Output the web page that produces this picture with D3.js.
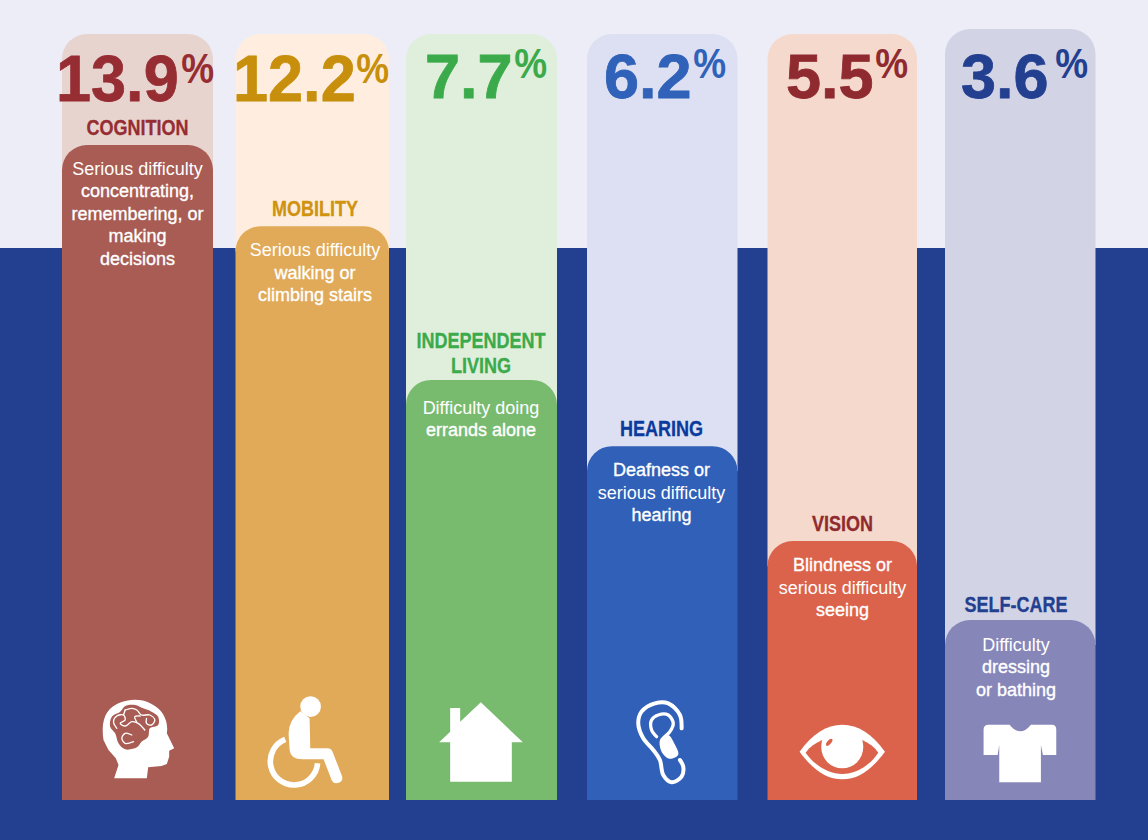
<!DOCTYPE html>
<html>
<head>
<meta charset="utf-8">
<script src="https://d3js.org/d3.v7.min.js"></script>
<style>
  html, body { margin: 0; padding: 0; background: #ecedf7; }
  svg { display: block; }
  text { font-family: "Liberation Sans", Arial, sans-serif; }
</style>
</head>
<body>
<div id="chart"></div>
<script>
// data
var categories = ["COGNITION", "MOBILITY", "INDEPENDENT LIVING", "HEARING", "VISION", "SELF-CARE"];
var labelLines = [["COGNITION"], ["MOBILITY"], ["INDEPENDENT", "LIVING"], ["HEARING"], ["VISION"], ["SELF-CARE"]];
var shares = ["13.9", "12.2", "7.7", "6.2", "5.5", "3.6"];
// the drawn bars are not quite proportional to the printed shares, so this is the measured level
var barLevels = [13.94, 12.21, 8.94, 7.53, 5.51, 3.83];
var descriptions = [
  ["Serious difficulty", "concentrating,", "remembering, or", "making", "decisions"],
  ["Serious difficulty", "walking or", "climbing stairs"],
  ["Difficulty doing", "errands alone"],
  ["Deafness or", "serious difficulty", "hearing"],
  ["Blindness or", "serious difficulty", "seeing"],
  ["Difficulty", "dressing", "or bathing"]
];
var emphasised = [
  "concentrating,", "remembering, or", "making", "decisions", "walking or", "climbing stairs",
  "errands alone", "Deafness or", "hearing", "Blindness or", "seeing", "dressing", "or bathing"
];

var svgWidth = 1148;
var svgHeight = 840;
var barBottom = 800;
var bandTop = 248;
var radius = 25;

var svg = d3.select("#chart")
  .append("svg")
  .attr("width", svgWidth)
  .attr("height", svgHeight);

// scales
var xLeft = d3.scaleOrdinal().domain(categories).range([62, 235.5, 406, 587, 767.5, 945]);
var barWidth = d3.scaleOrdinal().domain(categories).range([151, 153.5, 151, 150.5, 149.5, 150.5]);
var textCentre = d3.scaleOrdinal().domain(categories).range([137.5, 315, 481, 661.5, 842.5, 1016]);
var shareLeft = d3.scaleOrdinal().domain(categories).range([56, 233, 425, 604, 786, 961]);
var shareBase = d3.scaleOrdinal().domain(categories).range([101, 101, 98, 98, 98, 98]);
var shareSize = d3.scaleOrdinal().domain(categories).range([65, 65, 63, 63, 63, 63]);
var shareSqueeze = d3.scaleOrdinal().domain(categories).range([0.97, 0.97, 1, 1, 1, 1]);
var percentRight = d3.scaleOrdinal().domain(categories).range([214, 389, 547, 726, 908, 1088]);
var percentBase = d3.scaleOrdinal().domain(categories).range([83, 83, 78, 78, 78, 78]);
var labelGap = d3.scaleOrdinal().domain(categories).range([10, 10, 7, 10, 10, 8]);
var descGap = d3.scaleOrdinal().domain(categories).range([30, 30, 34, 30, 30, 31]);
var trackTop = d3.scaleOrdinal().domain(categories).range([34, 34, 34, 34, 34, 29]);
var yLevel = d3.scaleLinear().domain([0, 13.94]).range([barBottom, 145]);

var trackColor = d3.scaleOrdinal().domain(categories)
  .range(["#e8d4cf", "#ffeedf", "#e0eedc", "#dddff2", "#f5d9cc", "#d2d4e6"]);
var barColor = d3.scaleOrdinal().domain(categories)
  .range(["#a85c54", "#e1aa58", "#79bb6e", "#3060b8", "#db634b", "#8786b8"]);
var shareColor = d3.scaleOrdinal().domain(categories)
  .range(["#962d33", "#c78f0c", "#3baa4a", "#2f62b8", "#8f2b30", "#233f8f"]);
var labelColor = d3.scaleOrdinal().domain(categories)
  .range(["#962d33", "#d0930f", "#3baa4a", "#0a3a9e", "#8f2b30", "#233f8f"]);

function roundTop(x, top, w, bottom, r) {
  var p = d3.path();
  p.moveTo(x, bottom);
  p.lineTo(x, top + r);
  p.arcTo(x, top, x + r, top, r);
  p.lineTo(x + w - r, top);
  p.arcTo(x + w, top, x + w, top + r, r);
  p.lineTo(x + w, bottom);
  p.closePath();
  return p.toString();
}

// background
svg.append("rect").attr("width", svgWidth).attr("height", bandTop).attr("fill", "#ecedf7");
svg.append("rect").attr("y", bandTop).attr("width", svgWidth).attr("height", svgHeight - bandTop).attr("fill", "#233f8f");

var rows = categories.map(function (c, i) {
  return { cat: c, level: barLevels[i], share: shares[i], label: labelLines[i], desc: descriptions[i] };
});

var columns = svg.selectAll("g.column")
  .data(rows)
  .enter()
  .append("g")
  .attr("class", "column");

columns.append("path")
  .attr("d", d => roundTop(xLeft(d.cat), trackTop(d.cat), barWidth(d.cat), yLevel(d.level) + radius, radius))
  .attr("fill", d => trackColor(d.cat));

columns.append("path")
  .attr("d", d => roundTop(xLeft(d.cat), yLevel(d.level), barWidth(d.cat), barBottom, radius))
  .attr("fill", d => barColor(d.cat));

// big numbers are condensed in the original
columns.append("text")
  .attr("transform", d => `translate(${shareLeft(d.cat)}, ${shareBase(d.cat)}) scale(${shareSqueeze(d.cat)}, 1)`)
  .attr("font-size", d => shareSize(d.cat))
  .attr("font-weight", "bold")
  .attr("fill", d => shareColor(d.cat))
  .attr("stroke", d => shareColor(d.cat))
  .attr("stroke-width", 0.8)
  .text(d => d.share);

columns.append("text")
  .attr("transform", d => `translate(${percentRight(d.cat)}, ${percentBase(d.cat)}) scale(0.88, 1)`)
  .attr("text-anchor", "end")
  .attr("font-size", 42)
  .attr("font-weight", "bold")
  .attr("fill", d => shareColor(d.cat))
  .text("%");

columns.each(function (d) {
  var g = d3.select(this);
  var top = yLevel(d.level);
  var n = d.label.length;
  d.label.forEach(function (line, i) {
    g.append("text")
      .attr("transform", `translate(${textCentre(d.cat)}, ${top - labelGap(d.cat) - (n - 1 - i) * 24.5}) scale(0.82, 1)`)
      .attr("text-anchor", "middle")
      .attr("font-size", 22)
      .attr("font-weight", "bold")
      .attr("fill", labelColor(d.cat))
      .attr("stroke", labelColor(d.cat))
      .attr("stroke-width", 0.3)
      .text(line);
  });
  d.desc.forEach(function (line, i) {
    var strong = emphasised.indexOf(line) >= 0;
    g.append("text")
      .attr("x", textCentre(d.cat))
      .attr("y", top + descGap(d.cat) + i * 22.4)
      .attr("text-anchor", "middle")
      .attr("font-size", 18)
      .attr("fill", "#fff")
      .attr("stroke", strong ? "#fff" : "none")
      .attr("stroke-width", strong ? 0.35 : 0)
      .text(line);
  });
});

// icons, drawn in units of a third of a pixel, origin at the bar's bottom centre
var smooth = d3.line().curve(d3.curveCatmullRomClosed.alpha(0.5));
var smoothOpen = d3.line().curve(d3.curveCatmullRom.alpha(0.5));

var icons = {
  "COGNITION": function (g, bg) {
    g.append("path").attr("fill", "#fff").attr("d",
      "M-102,-180 C-112,-245 -90,-275 -57,-290 C-17,-308 32,-305 67,-270 C85,-250 92,-225 88,-200 L110,-155 L95,-148 L95,-130 L88,-108 L72,-102 L32,-98 L28,-65 L-70,-65 L-57,-105 L-65,-125 L-87,-150 Z");
    g.append("path").attr("fill", bg).attr("d", smooth([
      [-77, -250], [-52, -265], [-37, -282], [-7, -285], [17, -275], [42, -265], [62, -250],
      [62, -225], [37, -215], [32, -190], [12, -175], [-2, -158], [-37, -152], [-57, -170],
      [-67, -200], [-82, -220]
    ]));
    var squiggles = [
      [[-62, -215], [-72, -235], [-62, -252], [-42, -255], [-37, -240], [-52, -230], [-37, -222], [-17, -235], [2, -230], [22, -210]],
      [[-37, -270], [-17, -275], [-2, -270], [12, -255], [37, -255], [52, -240], [42, -225], [27, -230], [27, -245]],
      [[-17, -195], [-37, -200], [-47, -185], [-37, -170], [-12, -175]],
      [[-42, -255], [-37, -270]],
      [[-2, -233], [-8, -250], [8, -252]]
    ];
    squiggles.forEach(function (s) {
      g.append("path").attr("fill", "none").attr("stroke", "#fff").attr("stroke-width", 4)
        .attr("stroke-linecap", "round").attr("d", smoothOpen(s));
    });
  },
  "MOBILITY": function (g) {
    g.append("circle").attr("cx", -5).attr("cy", -280).attr("r", 31).attr("fill", "#fff");
    g.append("path").attr("fill", "#fff").attr("d",
      "M-36,-266 L-8,-245 L-6,-155 L45,-155 Q58,-155 62,-142 L90,-70 A17,17 0 0 1 59,-58 L34,-122 L-30,-122 Q-65,-122 -68,-150 L-71,-200 Q-70,-240 -36,-266 Z");
    g.append("path").attr("fill", "none").attr("stroke", "#fff").attr("stroke-width", 17)
      .attr("d", "M-81,-182 A71,71 0 1 0 16,-110");
  },
  "INDEPENDENT LIVING": function (g) {
    g.append("path").attr("fill", "#fff").attr("d",
      "M-2,-293 L124,-173 L91,-173 L91,-55 L-94,-55 L-94,-173 L-127,-173 L-94,-205 L-94,-276 L-64,-276 L-64,-235 Z");
  },
  "HEARING": function (g) {
    g.append("path").attr("fill", "none").attr("stroke", "#fff").attr("stroke-width", 12).attr("stroke-linecap", "round")
      .attr("d", smoothOpen([[58, -215], [53, -255], [18, -290], [-22, -290], [-62, -265], [-72, -230], [-57, -185], [-27, -150], [-7, -120], [3, -75], [28, -53], [58, -70], [63, -100], [53, -120]]));
    g.append("path").attr("fill", "none").attr("stroke", "#fff").attr("stroke-width", 10).attr("stroke-linecap", "round")
      .attr("d", smoothOpen([[-17, -190], [-32, -210], [-32, -240], [-12, -255], [18, -255], [33, -230], [23, -205], [3, -185], [-2, -165]]));
    g.append("path").attr("fill", "#fff").attr("d", smooth([[-6, -182], [-2, -145], [22, -124], [48, -136], [37, -168], [18, -195]]));
  },
  "VISION": function (g, bg) {
    g.append("path").attr("fill", "#fff").attr("d",
      "M-128,-145 C-88,-200 -47,-226 0,-226 C48,-226 88,-200 128,-145 C88,-90 48,-62 0,-62 C-47,-62 -88,-90 -128,-145 Z");
    g.append("path").attr("fill", bg).attr("d",
      "M-110,-142 C-85,-178 -40,-190 0,-190 C40,-190 85,-178 108,-142 C80,-100 38,-78 0,-78 C-37,-78 -80,-100 -110,-142 Z");
    g.append("path").attr("fill", "#fff").attr("d",
      "M-63,-158 A63,63 0 1 0 63,-158 C63,-180 55,-195 45,-210 L-45,-210 C-55,-195 -63,-180 -63,-158 Z");
    g.append("ellipse").attr("transform", "translate(-39,-173) rotate(40)").attr("rx", 6).attr("ry", 13).attr("fill", bg);
  },
  "SELF-CARE": function (g) {
    g.append("path").attr("fill", "#fff").attr("d",
      "M-95,-226 L-32,-226 Q0,-186 32,-226 L95,-226 Q108,-226 108,-212 L108,-135 L68,-135 L62,-165 L62,-53 L-63,-53 L-63,-165 L-68,-135 L-110,-135 L-110,-212 Q-110,-226 -95,-226 Z");
  }
};

columns.append("g")
  .attr("transform", d => `translate(${xLeft(d.cat) + barWidth(d.cat) / 2}, ${barBottom}) scale(${1 / 3})`)
  .each(function (d) {
    icons[d.cat](d3.select(this), barColor(d.cat));
  });
</script>
</body>
</html>
